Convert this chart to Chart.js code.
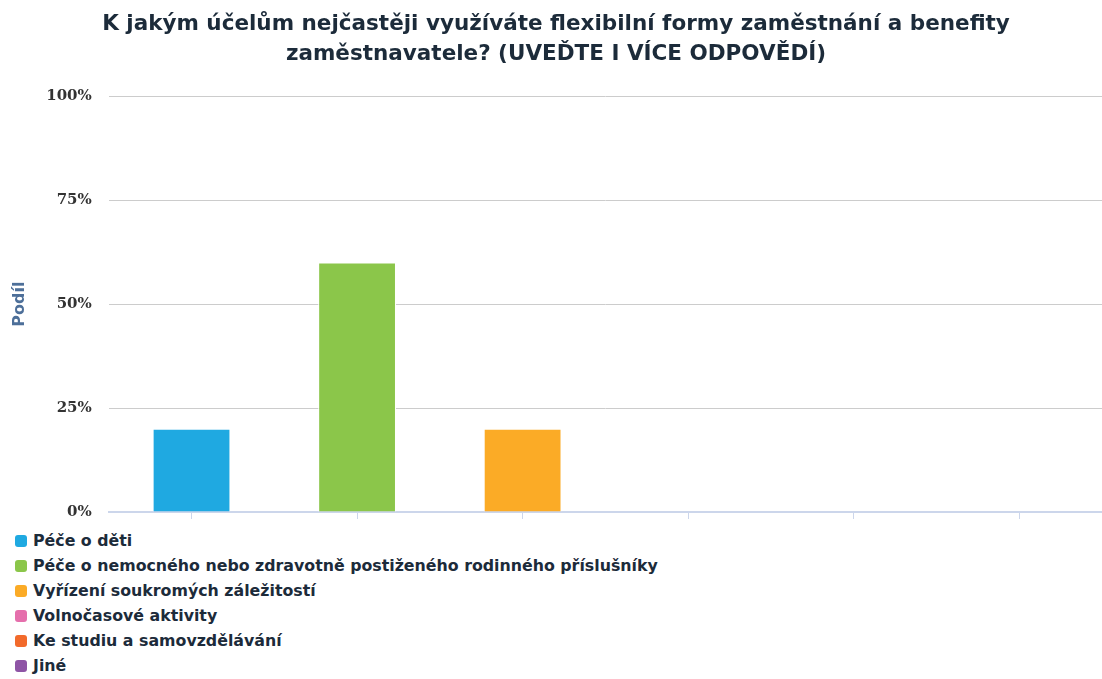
<!DOCTYPE html>
<html lang="cs">
<head>
<meta charset="utf-8">
<title>Flexibilní formy zaměstnání</title>
<script src="https://cdn.jsdelivr.net/npm/chart.js@4.4.1/dist/chart.umd.min.js"></script>
<style>
    body { margin: 0; background: #fff; }
    #wrap { position: relative; width: 1102px; height: 538px; }
    #legend { list-style: none; margin: -10px 0 0 0; padding: 0 0 0 15px; font: 700 15.8px "DejaVu Sans", sans-serif; color: #1c2b3a; }
    #legend li { display: flex; align-items: center; height: 25px; }
    #legend span.box { width: 12px; height: 12px; border-radius: 3px; margin-right: 6px; }
</style>
</head>
<body>
<div id="wrap"><canvas id="bar-chart"></canvas></div>
<ul id="legend"></ul>
<script>
// Survey answers and their shares (%)
const categories = [
    'Péče o děti',
    'Péče o nemocného nebo zdravotně postiženého rodinného příslušníky',
    'Vyřízení soukromých záležitostí',
    'Volnočasové aktivity',
    'Ke studiu a samovzdělávání',
    'Jiné'
];
const shares = [20, 60, 20, 0, 0, 0];
const colors = ['#1fa9e1', '#8bc64a', '#fbab26', '#e56fac', '#f26a2b', '#8e54a5'];
const yTicks = [0, 25, 50, 75, 100];
const titleLines = [
    'K jakým účelům nejčastěji využíváte flexibilní formy zaměstnání a benefity',
    'zaměstnavatele? (UVEĎTE I VÍCE ODPOVĚDÍ)'
];

document.addEventListener('DOMContentLoaded', function () {
    const ctx = document.getElementById('bar-chart').getContext('2d');
    const barChart = new Chart(ctx, {
        type: 'bar',
        data: {
            labels: categories,
            datasets: [{
                label: 'Podíl',
                data: shares,
                backgroundColor: colors,
                borderColor: '#ffffff',
                borderWidth: 1,
                barPercentage: 0.47,
                categoryPercentage: 1
            }]
        },
        options: {
            responsive: true,
            maintainAspectRatio: false,
            animation: false,
            layout: { padding: { left: 10, right: 0, top: 0, bottom: 0 } },
            plugins: {
                legend: { display: false },
                tooltip: { enabled: false },
                title: {
                    display: true,
                    text: titleLines,
                    color: '#1c2b3a',
                    font: { family: 'DejaVu Sans', size: 21.5, weight: 'bold', lineHeight: 1.4 },
                    padding: { top: 9, bottom: 27 }
                }
            },
            scales: {
                x: {
                    grid: { display: true, drawOnChartArea: false, offset: false, tickLength: 7, color: '#ccd6eb', lineWidth: 1 },
                    border: { color: '#ccd6eb', width: 2 },
                    ticks: { display: false }
                },
                y: {
                    min: 0,
                    max: 100,
                    afterBuildTicks: function (scale) {
                        scale.ticks = yTicks.map(v => ({ value: v }));
                    },
                    ticks: {
                        callback: v => v + '%',
                        color: '#333333',
                        padding: 17,
                        font: { family: 'DejaVu Serif', size: 15, weight: 'bold' }
                    },
                    grid: { color: '#cccccc', lineWidth: 1, drawTicks: false },
                    border: { display: false },
                    title: {
                        display: true,
                        text: 'Podíl',
                        color: '#4d6f99',
                        font: { family: 'DejaVu Sans', size: 16, weight: 'bold' },
                        padding: { top: 0, bottom: 0 }
                    }
                }
            }
        }
    });

    // Vertical legend under the plot
    const legend = document.getElementById('legend');
    categories.forEach((name, i) => {
        const li = document.createElement('li');
        const box = document.createElement('span');
        box.className = 'box';
        box.style.background = colors[i];
        li.appendChild(box);
        li.appendChild(document.createTextNode(name));
        legend.appendChild(li);
    });
});
</script>
</body>
</html>
